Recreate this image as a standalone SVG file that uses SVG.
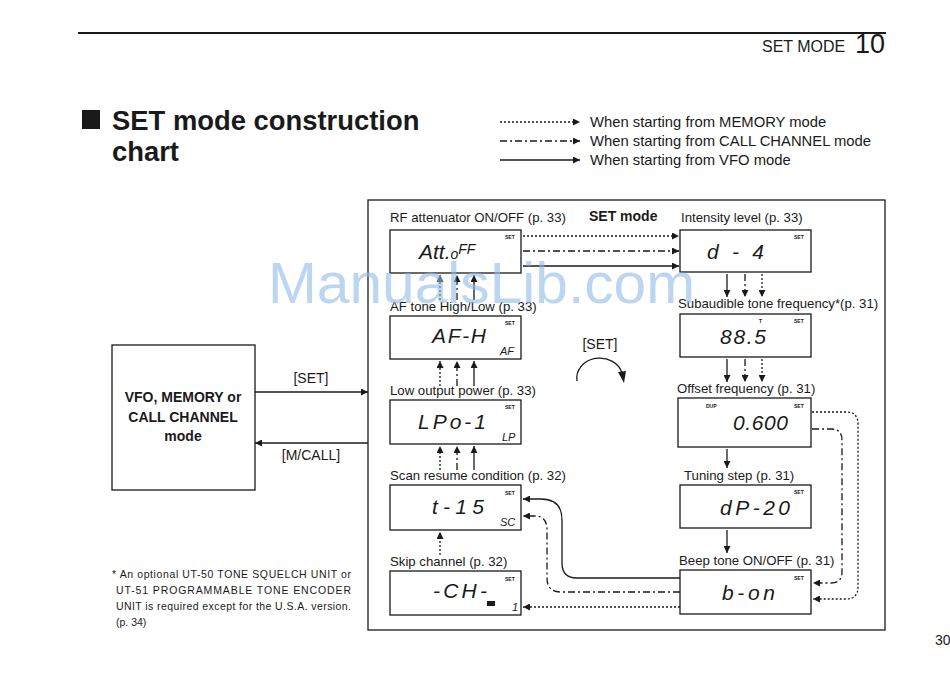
<svg xmlns="http://www.w3.org/2000/svg" width="950" height="675" viewBox="0 0 950 675">
<style>
text{font-family:"Liberation Sans",Arial,sans-serif;fill:#1a1a1a}
.lbl{font-size:13.2px}
.leg{font-size:14.8px}
.lcd{font-size:21px;font-style:italic}
.sm{font-size:11px;font-style:italic}
.set{font-size:5px;font-weight:bold}
.box{fill:#fff;stroke:#1a1a1a;stroke-width:1.3}
.ln{fill:none;stroke:#1a1a1a;stroke-width:1.3}
.dot{stroke-dasharray:2 2}
.dd{stroke-dasharray:7 3 2 3}
.fn{font-size:10.5px}
</style>
<defs>
<marker id="ah" viewBox="0 0 10 10" refX="10" refY="5" markerWidth="9" markerHeight="7" markerUnits="userSpaceOnUse" orient="auto"><path d="M0,0 L10,5 L0,10 z" fill="#1a1a1a"/></marker>
</defs>
<rect width="950" height="675" fill="#fff"/>

<!-- header -->
<line x1="78" y1="33" x2="886" y2="33" stroke="#1a1a1a" stroke-width="2"/>
<text x="762" y="52" font-size="16">SET MODE</text>
<text x="855" y="53" font-size="27">10</text>
<text x="935" y="645" font-size="14">30</text>

<!-- title -->
<rect x="82" y="110" width="18" height="19" fill="#1a1a1a"/>
<text x="112" y="130" font-size="27.4" font-weight="bold">SET mode construction</text>
<text x="112" y="161" font-size="27.4" font-weight="bold">chart</text>

<!-- legend -->
<g id="legend">
<line class="ln dot" x1="500" y1="122" x2="580" y2="122" marker-end="url(#ah)"/>
<line class="ln dd" x1="500" y1="141" x2="580" y2="141" marker-end="url(#ah)"/>
<line class="ln" x1="500" y1="160" x2="580" y2="160" marker-end="url(#ah)"/>
<text class="leg" x="590" y="127">When starting from MEMORY mode</text>
<text class="leg" x="590" y="146">When starting from CALL CHANNEL mode</text>
<text class="leg" x="590" y="165">When starting from VFO mode</text>
</g>

<!-- left mode box -->
<g id="mode">
<rect class="box" x="112" y="345" width="143" height="145"/>
<text x="183" y="402" font-size="14" font-weight="bold" text-anchor="middle">VFO, MEMORY or</text>
<text x="183" y="422" font-size="14" font-weight="bold" text-anchor="middle">CALL CHANNEL</text>
<text x="183" y="441" font-size="14" font-weight="bold" text-anchor="middle">mode</text>
</g>

<!-- SET mode panel -->
<g id="panel">
<rect x="368" y="200" width="517" height="430" fill="none" stroke="#1a1a1a" stroke-width="1.3"/>
<text x="589" y="221" font-size="14" font-weight="bold">SET mode</text>
</g>

<!-- footnote -->
<g id="footnote">
<text class="fn" x="112" y="578" textLength="239" lengthAdjust="spacing">* An optional UT-50 TONE SQUELCH UNIT or</text>
<text class="fn" x="116" y="594" textLength="235" lengthAdjust="spacing">UT-51 PROGRAMMABLE TONE ENCODER</text>
<text class="fn" x="116" y="610" textLength="235" lengthAdjust="spacing">UNIT is required except for the U.S.A. version.</text>
<text class="fn" x="116" y="626">(p. 34)</text>
</g>

<!-- nodes -->
<g id="att">
<text class="lbl" x="390" y="222">RF attenuator ON/OFF (p. 33)</text>
<rect class="box" x="390" y="230" width="131" height="43"/>
<text class="lcd" x="419" y="259">Att.<tspan font-size="14">o</tspan><tspan font-size="14" dy="-5">FF</tspan></text>
<text class="set" x="505" y="239">SET</text>
</g>
<g id="intensity">
<text class="lbl" x="681" y="222">Intensity level (p. 33)</text>
<rect class="box" x="680" y="230" width="131" height="42"/>
<text class="lcd" x="707" y="259" textLength="57" lengthAdjust="spacing">d-4</text>
<text class="set" x="794" y="239">SET</text>
</g>
<g id="subaudible">
<text class="lbl" x="678" y="308">Subaudible tone frequency*(p. 31)</text>
<rect class="box" x="680" y="314" width="131" height="43"/>
<text class="lcd" x="720" y="344" textLength="46" lengthAdjust="spacing">88.5</text>
<text class="set" x="759" y="323">T</text>
<text class="set" x="794" y="323">SET</text>
</g>
<g id="afTone">
<text class="lbl" x="390" y="311">AF tone High/Low (p. 33)</text>
<rect class="box" x="390" y="316" width="131" height="43"/>
<text class="lcd" x="432" y="343" textLength="54" lengthAdjust="spacing">AF-H</text>
<text class="sm" x="500" y="355">AF</text>
<text class="set" x="505" y="325">SET</text>
</g>
<g id="lowPower">
<text class="lbl" x="390" y="395">Low output power (p. 33)</text>
<rect class="box" x="390" y="400" width="131" height="44"/>
<text class="lcd" x="418" y="429" textLength="68" lengthAdjust="spacing">LPo-1</text>
<text class="sm" x="502" y="441">LP</text>
<text class="set" x="505" y="409">SET</text>
</g>
<g id="offset">
<text class="lbl" x="677" y="393">Offset frequency (p. 31)</text>
<rect class="box" x="678" y="398" width="133" height="49"/>
<text class="lcd" x="733" y="430" font-size="24" textLength="55" lengthAdjust="spacing">0.600</text>
<text class="set" x="706" y="408">DUP</text>
<text class="set" x="794" y="408">SET</text>
</g>
<g id="scanResume">
<text class="lbl" x="390" y="480">Scan resume condition (p. 32)</text>
<rect class="box" x="390" y="485" width="131" height="45"/>
<text class="lcd" x="432" y="514" textLength="52" lengthAdjust="spacing">t-15</text>
<text class="sm" x="500" y="526">SC</text>
<text class="set" x="505" y="495">SET</text>
</g>
<g id="tuningStep">
<text class="lbl" x="684" y="480">Tuning step (p. 31)</text>
<rect class="box" x="680" y="485" width="131" height="43"/>
<text class="lcd" x="720" y="515" textLength="70" lengthAdjust="spacing">dP-20</text>
<text class="set" x="794" y="494">SET</text>
</g>
<g id="skip">
<text class="lbl" x="390" y="566">Skip channel (p. 32)</text>
<rect class="box" x="390" y="571" width="131" height="44"/>
<text class="lcd" x="433" y="598" textLength="54" lengthAdjust="spacing">-CH-</text>
<rect x="487" y="601" width="8" height="5" fill="#1a1a1a"/>
<text class="sm" x="512" y="611">1</text>
<text class="set" x="505" y="581">SET</text>
</g>
<g id="beep">
<text class="lbl" x="679" y="565">Beep tone ON/OFF (p. 31)</text>
<rect class="box" x="680" y="570" width="131" height="44"/>
<text class="lcd" x="722" y="600" textLength="53" lengthAdjust="spacing">b-on</text>
<text class="set" x="794" y="580">SET</text>
</g>

<!-- connectors -->
<g id="connectors">
<line class="ln" x1="255" y1="392" x2="368" y2="392" marker-end="url(#ah)"/>
<text x="311" y="383" font-size="14" text-anchor="middle">[SET]</text>
<line class="ln" x1="368" y1="443" x2="255" y2="443" marker-end="url(#ah)"/>
<text x="311" y="460" font-size="14" text-anchor="middle">[M/CALL]</text>
<text x="600" y="349" font-size="14" text-anchor="middle">[SET]</text>
<path class="ln" d="M577,381 A23,20 0 0 1 622,373"/>
<path d="M618,372 L626,371 L624,383 z" fill="#1a1a1a"/>
<line class="ln dot" x1="523" y1="236" x2="679" y2="236" marker-end="url(#ah)"/>
<line class="ln dd" x1="523" y1="251" x2="679" y2="251" marker-end="url(#ah)"/>
<line class="ln" x1="523" y1="266" x2="679" y2="266" marker-end="url(#ah)"/>
<line class="ln" x1="727" y1="274" x2="727" y2="297" marker-end="url(#ah)"/>
<line class="ln dd" x1="745" y1="274" x2="745" y2="297" marker-end="url(#ah)"/>
<line class="ln dot" x1="762" y1="274" x2="762" y2="297" marker-end="url(#ah)"/>
<line class="ln" x1="727" y1="359" x2="727" y2="382" marker-end="url(#ah)"/>
<line class="ln dd" x1="745" y1="359" x2="745" y2="382" marker-end="url(#ah)"/>
<line class="ln dot" x1="762" y1="359" x2="762" y2="382" marker-end="url(#ah)"/>
<line class="ln" x1="727" y1="449" x2="727" y2="468" marker-end="url(#ah)"/>
<line class="ln" x1="727" y1="530" x2="727" y2="553" marker-end="url(#ah)"/>
<line class="ln dot" x1="440" y1="300" x2="440" y2="275" marker-end="url(#ah)"/>
<line class="ln dd" x1="457" y1="300" x2="457" y2="275" marker-end="url(#ah)"/>
<line class="ln" x1="474" y1="300" x2="474" y2="275" marker-end="url(#ah)"/>
<line class="ln dot" x1="440" y1="386" x2="440" y2="361" marker-end="url(#ah)"/>
<line class="ln dd" x1="457" y1="386" x2="457" y2="361" marker-end="url(#ah)"/>
<line class="ln" x1="474" y1="386" x2="474" y2="361" marker-end="url(#ah)"/>
<line class="ln dot" x1="440" y1="470" x2="440" y2="446" marker-end="url(#ah)"/>
<line class="ln dd" x1="457" y1="470" x2="457" y2="446" marker-end="url(#ah)"/>
<line class="ln" x1="474" y1="470" x2="474" y2="446" marker-end="url(#ah)"/>
<line class="ln dot" x1="440" y1="555" x2="440" y2="532" marker-end="url(#ah)"/>
<path class="ln dot" d="M812,412 H846 Q858,412 858,424 V587 Q858,599 846,599 H813" marker-end="url(#ah)"/>
<path class="ln dd" d="M812,429 H831 Q842,429 842,440 V572 Q842,583 831,583 H813" marker-end="url(#ah)"/>
<path class="ln" d="M680,578 H577 Q562,578 562,563 V520 Q562,499 541,499 H523" marker-end="url(#ah)"/>
<path class="ln dd" d="M680,592 H561 Q547,592 547,578 V530 Q547,516 535,516 H523" marker-end="url(#ah)"/>
<line class="ln dot" x1="680" y1="607" x2="523" y2="607" marker-end="url(#ah)"/>
</g>

<!-- watermark -->
<text x="268" y="303" font-size="57" textLength="427" lengthAdjust="spacingAndGlyphs" style="fill:#8fb9e6;fill-opacity:0.6">ManualsLib.com</text>
</svg>
